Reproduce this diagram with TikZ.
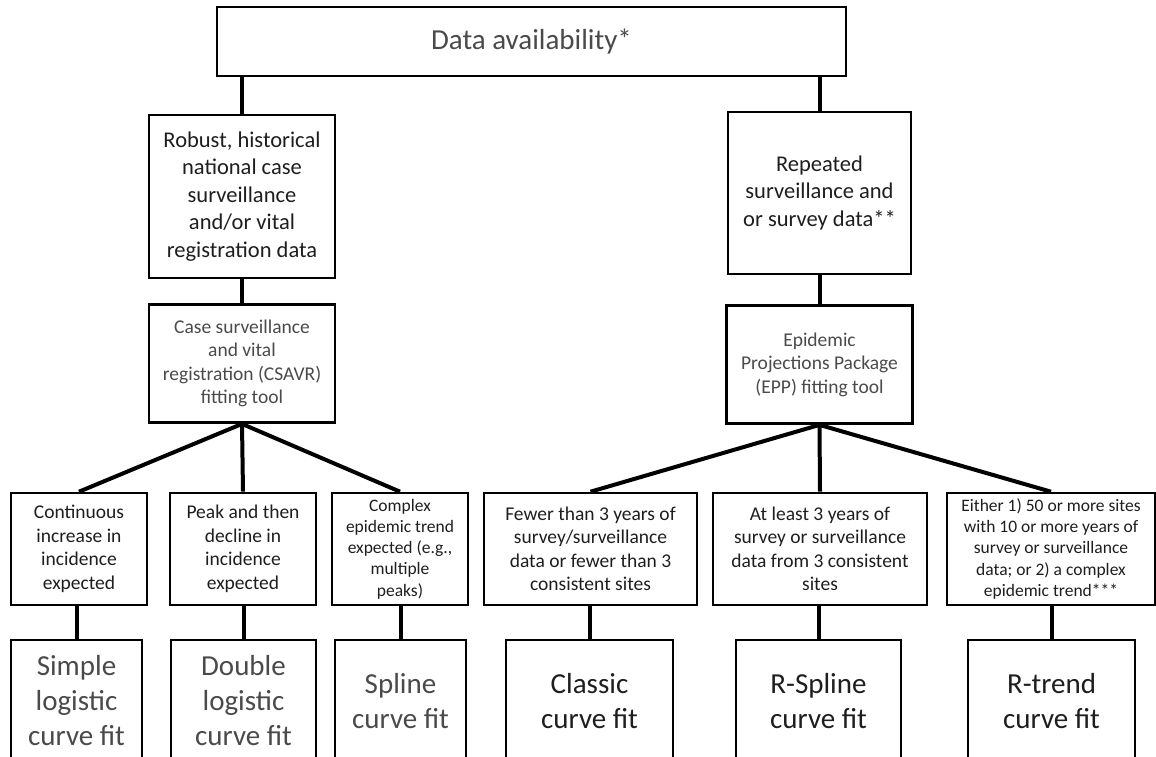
\documentclass[tikz,border=0pt]{standalone}
\usepackage{fontspec}
\setmainfont{Carlito}
\usetikzlibrary{positioning}
\definecolor{txtgray}{HTML}{4A4A4A}
\definecolor{txtdark}{HTML}{1E1E1E}
\begin{document}
\begin{tikzpicture}
   [x=1pt,y=-1pt,
    box/.style={rectangle,draw,line width=2.6pt,align=center,inner sep=2pt,text=txtdark},
    databox/.style={box,font=\fontsize{22.5}{27.5}\selectfont},
    toolbox/.style={box,text=txtgray,font=\fontsize{19.5}{23.5}\selectfont,
         minimum width=186pt,minimum height=118pt},
    critbox/.style={box,font=\fontsize{19.5}{23.5}\selectfont,minimum height=112pt},
    smallcrit/.style={critbox,font=\fontsize{17.5}{21.3}\selectfont},
    fitbox/.style={box,font=\fontsize{29}{35}\selectfont,minimum height=122pt},
    link/.style={line width=4pt}]

\clip (0,0) rectangle (1156,757);

\node [box,text=txtgray,font=\fontsize{29}{35}\selectfont,
       minimum width=629pt,minimum height=69pt] (avail) at (531.5,41.5) {Data availability*};

\node [databox,minimum width=186pt,minimum height=163pt] (robust) at (242,196.5)
  {Robust, historical\\national case\\surveillance\\and/or vital\\registration data};
\node [toolbox,below=24pt of robust] (csavr)
  {Case surveillance\\and vital\\registration (CSAVR)\\fitting tool};

\node [databox,minimum width=183pt,minimum height=162pt] (repeated) at (819.5,193)
  {Repeated\\surveillance and\\or survey data**};
\node [toolbox,below=29pt of repeated] (epp)
  {Epidemic\\Projections Package\\(EPP) fitting tool};

% conditions
\node [critbox,minimum width=136pt] (cont) at (79,549) {Continuous\\increase in\\incidence\\expected};
\node [critbox,minimum width=146pt] (peak) at (243,549) {Peak and then\\decline in\\incidence\\expected};
\node [smallcrit,minimum width=136pt] (complex) at (400,549)
  {Complex\\epidemic trend\\expected (e.g.,\\multiple\\peaks)};
\node [critbox,minimum width=213pt] (fewer) at (590.5,549)
  {Fewer than 3 years of\\survey/surveillance\\data or fewer than 3\\consistent sites};
\node [critbox,minimum width=214pt] (atleast) at (820,549)
  {At least 3 years of\\survey or surveillance\\data from 3 consistent\\sites};
\node [smallcrit,minimum width=208pt] (either) at (1051,549)
  {Either 1) 50 or more sites\\with 10 or more years of\\survey or surveillance\\data; or 2) a complex\\epidemic trend***};

% curve fits
\node [fitbox,text=txtgray,minimum width=131pt] (simple) at (76.5,701) {Simple\\logistic\\curve fit};
\node [fitbox,text=txtgray,minimum width=145pt] (double) at (243.5,701) {Double\\logistic\\curve fit};
\node [fitbox,text=txtgray,minimum width=131pt] (spline) at (400.5,701) {Spline\\curve fit};
\node [fitbox,minimum width=167pt] (classic) at (589.5,701) {Classic\\curve fit};
\node [fitbox,minimum width=165pt] (rspline) at (818.5,701) {R-Spline\\curve fit};
\node [fitbox,minimum width=167pt] (rtrend) at (1051.5,701) {R-trend\\curve fit};

\draw [link] (robust.north) -- (robust.north |- avail.south);
\draw [link] (repeated.north) -- (repeated.north |- avail.south);
\draw [link] (robust.south) -- (csavr.north);
\draw [link] (repeated.south) -- (epp.north);
\foreach \c in {cont,peak,complex}
  \draw [link] (csavr.south) -- (\c.north);
\foreach \c in {fewer,atleast,either}
  \draw [link] (epp.south) -- (\c.north);
\foreach \c/\f in {cont/simple,peak/double,complex/spline,fewer/classic,atleast/rspline,either/rtrend}
  \draw [link] (\f.north) -- (\f.north |- \c.south);
\end{tikzpicture}
\end{document}
